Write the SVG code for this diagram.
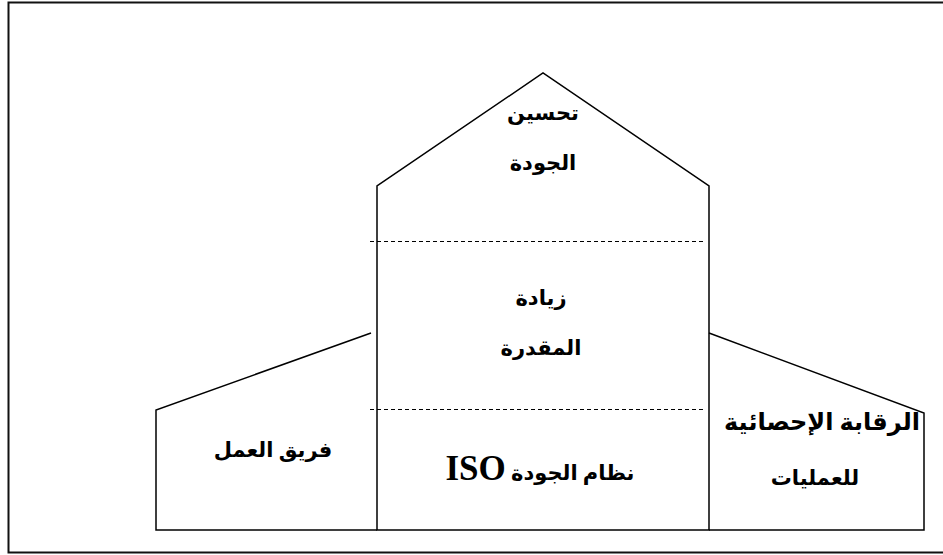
<svg xmlns="http://www.w3.org/2000/svg" width="943" height="555" viewBox="0 0 943 555">
  <style>
    .frame { fill: none; stroke: #111; stroke-width: 2; }
    .wall { fill: none; stroke: #000; stroke-width: 1.5; stroke-linejoin: miter; }
    .split { fill: none; stroke: #000; stroke-width: 1; stroke-dasharray: 4 3; }
    .lbl { font-family: "Liberation Serif", "DejaVu Sans", serif; font-weight: bold; font-size: 21px; fill: #000; text-anchor: middle; }
    .iso { font-size: 35px; }
    .wide { font-size: 24px; }
  </style>
  <rect width="943" height="555" fill="#fff"/>
  <!-- outer frame -->
  <path class="frame" d="M950 2.5 H8.5 V552.5 H950"/>

  <g id="connectors">
    <line class="split" x1="370" y1="241.5" x2="706" y2="241.5"/>
    <line class="split" x1="370" y1="409.5" x2="706" y2="409.5"/>
  </g>

  <g id="center-house">
    <path class="wall" d="M377 530 V186 L543 73 L709 186 V530 Z"/>
  </g>

  <g id="left-wing">
    <path class="wall" d="M377 530 H156 V410 L371 333"/>
  </g>

  <g id="right-wing">
    <path class="wall" d="M709 333 L924 413 V530 H709"/>
  </g>

  <g id="roof-label">
    <text class="lbl" x="543" y="120">تحسين</text>
    <text class="lbl" x="543" y="170">الجودة</text>
  </g>
  <g id="middle-label">
    <text class="lbl" x="541" y="305">زيادة</text>
    <text class="lbl" x="541" y="355">المقدرة</text>
  </g>
  <g id="base-label">
    <text class="lbl" x="540" y="480" direction="rtl" unicode-bidi="embed">نظام الجودة <tspan class="iso">ISO</tspan></text>
  </g>
  <g id="team-label">
    <text class="lbl" x="273" y="457">فريق العمل</text>
  </g>
  <g id="spc-label">
    <text class="lbl wide" x="822" y="430">الرقابة الإحصائية</text>
    <text class="lbl" x="815" y="485">للعمليات</text>
  </g>
</svg>
